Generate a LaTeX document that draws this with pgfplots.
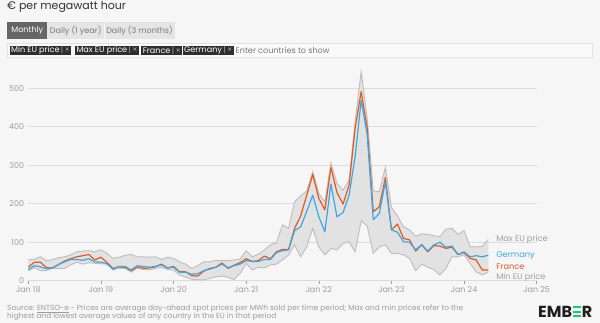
\documentclass[border=0pt]{standalone}
\usepackage{fontspec}
\setmainfont{Poppins}
\usepackage{pgfplots}
\pgfplotsset{compat=1.18}
\usepackage{pgfplotstable}
\usepgfplotslibrary{fillbetween}

\definecolor{bg}{HTML}{F6F6F6}
\definecolor{gridc}{HTML}{DCDCDC}
\definecolor{tickc}{HTML}{9E9E9E}
\definecolor{de}{HTML}{3AA8E8}
\definecolor{fr}{HTML}{E35A1C}
\definecolor{band}{HTML}{E2E2E2}
\definecolor{bandline}{HTML}{BDBDBD}
\definecolor{titlec}{HTML}{333333}
\definecolor{chip}{HTML}{2E2E2E}
\definecolor{chipx}{HTML}{A8A8A8}
\definecolor{btn}{HTML}{666666}
\definecolor{btnl}{HTML}{E5E5E5}
\definecolor{btntext}{HTML}{7A7A7A}
\definecolor{barfill}{HTML}{FAFAFA}
\definecolor{barline}{HTML}{E2E2E2}
\definecolor{footc}{HTML}{9C9C9C}
\definecolor{embergreen}{HTML}{14CC72}
\definecolor{emberdark}{HTML}{1E1E1E}
\pagecolor{bg}

\newcommand\greenE{\textcolor{embergreen}{\hspace{0.04em}\rlap{\rule[0pt]{0.52em}{0.13em}}\rlap{\rule[0.285em]{0.52em}{0.13em}}\rule[0.57em]{0.52em}{0.13em}\hspace{0.05em}}}

\pgfplotstableread{
i min max fr de
0 25 54 35 29
1 34 56 48 39
2 26 62 48 36
3 26 52 34 31
4 32 55 33 34
5 32 60 42 42
6 32 62 51 49
7 41 67 57 55
8 48 75 62 55
9 43 77 65 53
10 47 78 68 57
11 45 75 54 49
12 44 80 61 48
13 43 71 47 44
14 28 58 32 30
15 32 61 36 37
16 32 66 35 37
17 22 68 26 28
18 32 62 36 39
19 29 62 32 37
20 28 61 33 35
21 32 62 36 37
22 35 55 43 41
23 29 61 33 33
24 28 58 37 35
25 15 49 23 22
26 9 43 23 22
27 4 32 13 17
28 2 39 12 18
29 2 49 25 26
30 6 49 32 30
31 10 53 35 35
32 12 52 46 43
33 9 52 32 34
34 3 54 40 39
35 19 56 47 43
36 45 78 57 52
37 28 62 50 50
38 35 69 52 50
39 33 80 64 55
40 41 93 57 55
41 43 99 75 73
42 54 145 81 78
43 67 136 81 80
44 93 205 136 130
45 62 220 168 140
46 88 233 222 180
47 136 283 276 222
48 88 227 214 166
49 67 205 184 127
50 84 306 294 251
51 80 253 229 166
52 97 235 199 177
53 101 261 248 222
54 75 413 396 322
55 155 543 491 469
56 142 422 396 378
57 71 233 179 158
58 88 231 192 175
59 93 294 268 257
60 71 190 132 132
61 71 168 147 126
62 67 140 110 101
63 58 132 106 100
64 26 115 77 80
65 43 122 93 94
66 35 120 75 77
67 29 117 91 93
68 15 114 90 100
69 32 134 84 87
70 62 136 87 90
71 62 120 68 68
72 67 130 73 75
73 45 88 58 62
74 23 88 54 65
75 15 89 28 62
76 22 107 28 66
}\data

\begin{document}%
\begin{tikzpicture}
\begin{scope}[x=1pt,y=1pt]
\path (0,0) rectangle (600,323);

% title
\node[anchor=base west, inner sep=0, text=titlec, font=\fontsize{11}{13}\selectfont] at (7,313) {€ per megawatt hour};

% buttons
\fill[btnl] (47.3,284) rectangle (175,300.7);
\draw[bg, line width=0.8pt] (104,284) -- (104,300.7);
\fill[btn] (7.3,284) rectangle (47.3,300.7);
\node[text=white, font=\fontsize{8}{9}\selectfont, inner sep=0] at (27.3,292.3) {Monthly};
\node[text=btntext, font=\fontsize{8}{9}\selectfont, inner sep=0] at (75.7,292.3) {Daily (1 year)};
\node[text=btntext, font=\fontsize{8}{9}\selectfont, inner sep=0] at (139.5,292.3) {Daily (3 months)};

% filter bar
\filldraw[fill=barfill, draw=barline, line width=0.6pt] (7,265.3) rectangle (592,279.7);
\tikzset{chipn/.style={anchor=west, fill=chip, text=white, inner xsep=1.6pt, inner ysep=0pt, minimum height=8.6pt, font=\fontsize{8.1}{8}\selectfont}}
\node[chipn] at (9.3,272.6) {Min EU price\,\textcolor{chipx}{|\,×}};
\node[chipn] at (74.7,272.6) {Max EU price\,\textcolor{chipx}{|\,×}};
\node[chipn] at (141,272.6) {France\,\textcolor{chipx}{|\,×}};
\node[chipn] at (182.3,272.6) {Germany\,\textcolor{chipx}{|\,×}};
\node[anchor=west, inner sep=0, text=btntext, font=\fontsize{8.1}{8}\selectfont] at (235.5,272.6) {Enter countries to show};

% footer
\node[anchor=base west, inner sep=0, text=footc, font=\fontsize{7.4}{8.5}\selectfont] at (7,12.5) {Source: \underline{ENTSO-e} - Prices are average day-ahead spot prices per MWh sold per time period; Max and min prices refer to the};
\node[anchor=base west, inner sep=0, text=footc, font=\fontsize{7.4}{8.5}\selectfont] at (7,4) {highest and lowest average values of any country in the EU in that period};

% logo
\node[anchor=base west, inner sep=0, text=emberdark, font=\fontsize{16}{16}\bfseries\selectfont] at (538,5.5) {EMB\greenE R};
\end{scope}

\begin{axis}[
  at={(28.3pt,42.3pt)}, anchor=south west,
  scale only axis, width=508.4pt, height=215.6pt,
  xmin=0, xmax=84, ymin=0, ymax=560,
  clip=false,
  axis lines*=left,
  y axis line style={draw=none},
  x axis line style={draw=gridc, line width=0.8pt},
  ytick={0,100,200,300,400,500},
  ymajorgrids, grid style={draw=gridc, line width=0.8pt},
  ytick style={draw=none},
  xtick={0,12,24,36,48,60,72,84},
  xticklabels={Jan 18,Jan 19,Jan 20,Jan 21,Jan 22,Jan 23,Jan 24,Jan 25},
  xtick style={draw=tickc, line width=0.5pt},
  tick align=outside, major tick length=3pt,
  /pgf/number format/assume math mode=true,
  ticklabel style={text=tickc, font=\fontsize{8}{8}\selectfont},
  yticklabel style={anchor=east, inner sep=0pt, xshift=-1pt},
  xticklabel style={inner sep=0pt, yshift=-3pt},
]
\addplot[draw=none, forget plot, name path=mx] table[x=i,y=max]{\data};
\addplot[draw=none, forget plot, name path=mn] table[x=i,y=min]{\data};
\addplot[band, fill=band, draw=none] fill between[of=mx and mn];
\addplot[draw=bandline, line width=0.9pt] table[x=i,y=max]{\data};
\addplot[draw=bandline, line width=0.9pt] table[x=i,y=min]{\data};
\addplot[draw=fr, line width=1.2pt, line join=round] table[x=i,y=fr]{\data};
\addplot[draw=de, line width=1.2pt, line join=round] table[x=i,y=de]{\data};
\node[anchor=west, inner sep=0, text=tickc, font=\fontsize{8.2}{9}\selectfont] at (axis cs:77.3,106) {Max EU price};
\node[anchor=west, inner sep=0, text=de, font=\fontsize{8.2}{9}\selectfont] at (axis cs:77.3,65) {Germany};
\node[anchor=west, inner sep=0, text=fr, font=\fontsize{8.2}{9}\selectfont] at (axis cs:77.3,36) {France};
\node[anchor=west, inner sep=0, text=tickc, font=\fontsize{8.2}{9}\selectfont] at (axis cs:77.3,8) {Min EU price};
\end{axis}
\end{tikzpicture}%
\end{document}
